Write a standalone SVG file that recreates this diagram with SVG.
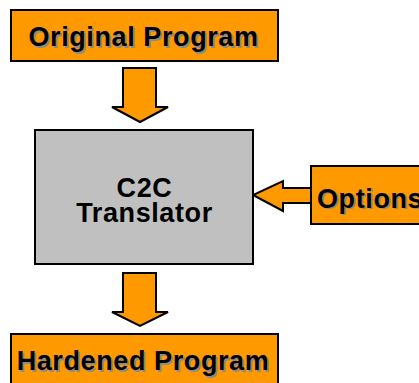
<svg xmlns="http://www.w3.org/2000/svg" width="419" height="383" viewBox="0 0 419 383">
<style>
.box{fill:#FF9900;stroke:#000;stroke-width:2}
.gbox{fill:#C0C0C0;stroke:#000;stroke-width:2}
.arr{fill:#FF9900;stroke:#000;stroke-width:2;stroke-linejoin:miter}
.t{font-family:"Liberation Sans",Arial,sans-serif;font-weight:bold;font-size:27px;letter-spacing:0.6px;text-anchor:middle;fill:#000}
.sh{fill:#8c8c8c}
</style>
<rect width="419" height="383" fill="#fff"/>
<g id="connectors">
<polygon class="arr" points="123,68 156,68 156,107 168,107 140,122 112,107 123,107"/>
<polygon class="arr" points="123,273 156,273 156,312 168,312 140,326 112,312 123,312"/>
<polygon class="arr" points="311,188 283,188 283,181 253,195 283,211 283,203 311,203"/>
</g>
<g id="original">
<rect class="box" x="11" y="10" width="267" height="51"/>
<text class="t sh" x="145" y="47.5">Original Program</text>
<text class="t" x="143.5" y="46">Original Program</text>
</g>
<g id="translator">
<rect class="gbox" x="35" y="130" width="218" height="134"/>
<text class="t" x="144.5" y="196.5">C2C</text>
<text class="t" x="144.5" y="221.5">Translator</text>
</g>
<g id="options">
<rect class="box" x="311" y="166" width="120" height="58"/>
<text class="t sh" x="318.5" y="209" style="text-anchor:start">Options</text>
<text class="t" x="317" y="207.5" style="text-anchor:start">Options</text>
</g>
<g id="hardened">
<rect class="box" x="11" y="334" width="267" height="60"/>
<text class="t sh" x="144.5" y="371.5">Hardened Program</text>
<text class="t" x="143" y="370">Hardened Program</text>
</g>
</svg>
